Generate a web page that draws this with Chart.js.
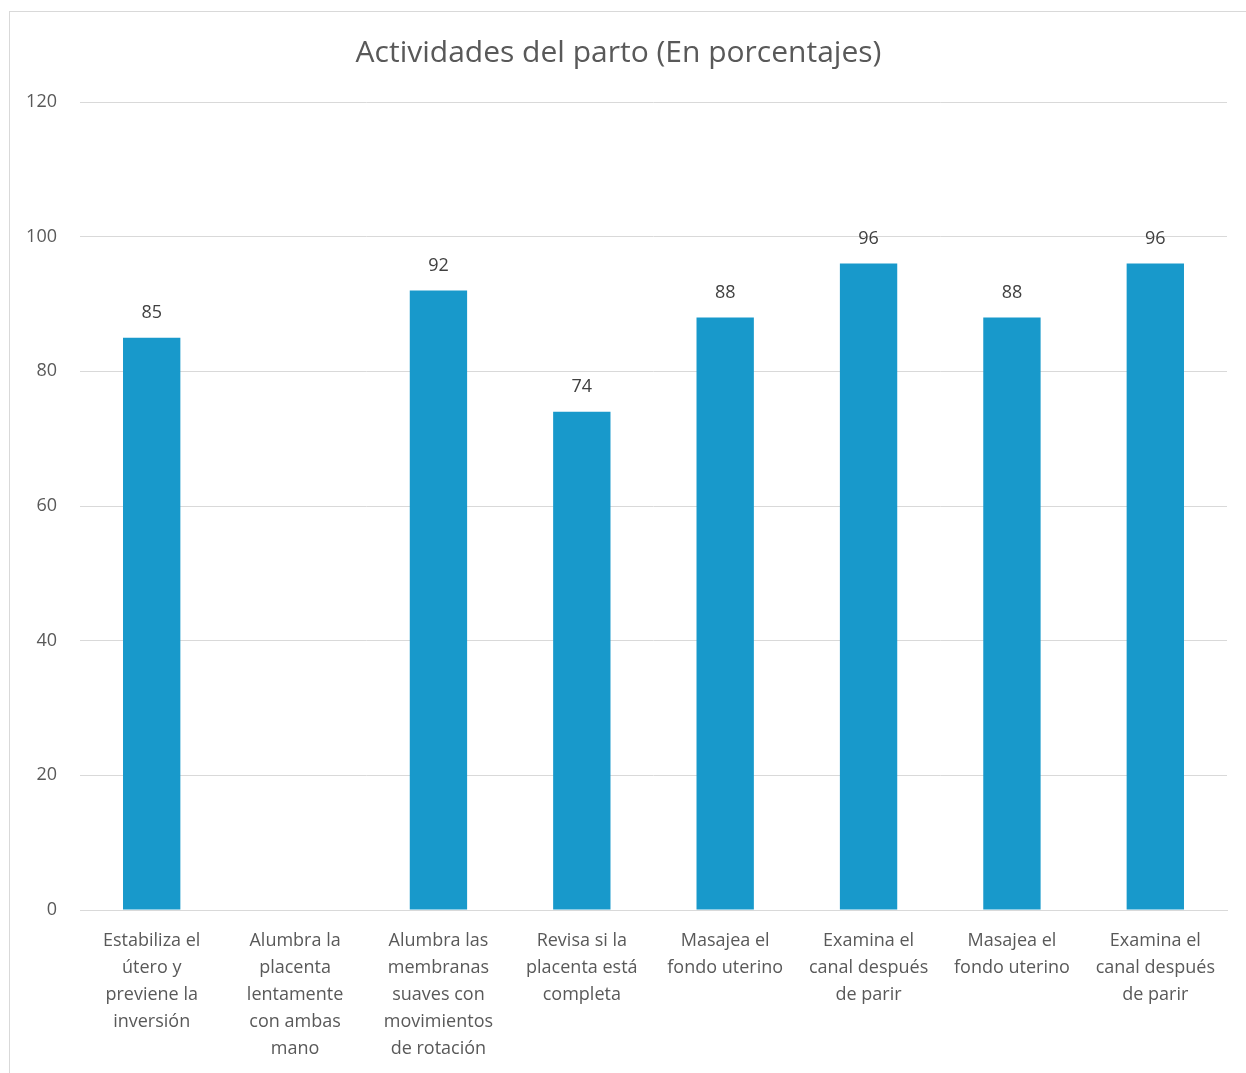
<!DOCTYPE html>
<html lang="es">
<head>
<meta charset="utf-8">
<title>Actividades del parto</title>
<script src="https://cdn.jsdelivr.net/npm/chart.js@4.4.1/dist/chart.umd.min.js"></script>
<style>
    html, body { margin: 0; padding: 0; background: #ffffff; overflow: hidden; }
    #frame {
        position: absolute;
        left: 9px;
        top: 11px;
        width: 1245px;
        height: 1070px;
        border: 1px solid #d9d9d9;
        background: #ffffff;
    }
</style>
</head>
<body>
<div id="frame">
    <canvas id="partoChart"></canvas>
</div>
<script>
// Categorías (cada una en varias líneas) y porcentajes
const categories = [
    ['Estabiliza el', 'útero y', 'previene la', 'inversión'],
    ['Alumbra la', 'placenta', 'lentamente', 'con ambas', 'mano'],
    ['Alumbra las', 'membranas', 'suaves con', 'movimientos', 'de rotación'],
    ['Revisa si la', 'placenta está', 'completa'],
    ['Masajea el', 'fondo uterino'],
    ['Examina el', 'canal después', 'de parir'],
    ['Masajea el', 'fondo uterino'],
    ['Examina el', 'canal después', 'de parir']
];
const percentages = [85, null, 92, 74, 88, 96, 88, 96];
const yTicks = [0, 20, 40, 60, 80, 100, 120];

const fontFamily = "'Open Sans', 'Noto Sans', sans-serif";

// Etiqueta de valor encima de cada barra
const valueLabels = {
    id: 'valueLabels',
    afterDatasetsDraw(chart) {
        const ctx = chart.ctx;
        const meta = chart.getDatasetMeta(0);
        ctx.save();
        ctx.font = `18px ${fontFamily}`;
        ctx.fillStyle = '#404040';
        ctx.textAlign = 'center';
        ctx.textBaseline = 'middle';
        meta.data.forEach((bar, i) => {
            const v = chart.data.datasets[0].data[i];
            if (v === null || v === undefined) return;
            ctx.fillText(String(v), bar.x, bar.y - 25);
        });
        ctx.restore();
    }
};

new Chart(document.getElementById('partoChart'), {
    type: 'bar',
    data: {
        labels: categories,
        datasets: [{
            label: 'Porcentaje',
            data: percentages,
            backgroundColor: '#1899cb',
            borderWidth: 0,
            categoryPercentage: 0.8,
            barPercentage: 0.5
        }]
    },
    options: {
        responsive: true,
        maintainAspectRatio: false,
        animation: false,
        layout: { padding: { left: 0, right: 28, top: 0, bottom: 0 } },
        plugins: {
            legend: { display: false },
            tooltip: { enabled: false },
            title: {
                display: true,
                text: 'Actividades del parto (En porcentajes)',
                color: '#595959',
                font: { family: fontFamily, size: 30, weight: 'normal', lineHeight: 1.2 },
                padding: { top: 23, bottom: 31 }
            }
        },
        scales: {
            x: {
                grid: { display: false, drawTicks: false },
                border: { display: true, color: '#d9d9d9', width: 1 },
                ticks: {
                    color: '#595959',
                    font: { family: fontFamily, size: 18, lineHeight: 1.5 },
                    padding: 17,
                    maxRotation: 0,
                    autoSkip: false
                },
                afterFit: (scale) => { scale.height = 172; }
            },
            y: {
                min: 0,
                max: 120,
                afterBuildTicks: (scale) => {
                    scale.ticks = yTicks.map(v => ({ value: v }));
                },
                grid: { color: '#d9d9d9', drawTicks: false },
                border: { display: false },
                ticks: {
                    color: '#595959',
                    font: { family: fontFamily, size: 18 },
                    padding: 23
                },
                afterFit: (scale) => { scale.width = 70; }
            }
        }
    },
    plugins: [valueLabels]
});
</script>
</body>
</html>
